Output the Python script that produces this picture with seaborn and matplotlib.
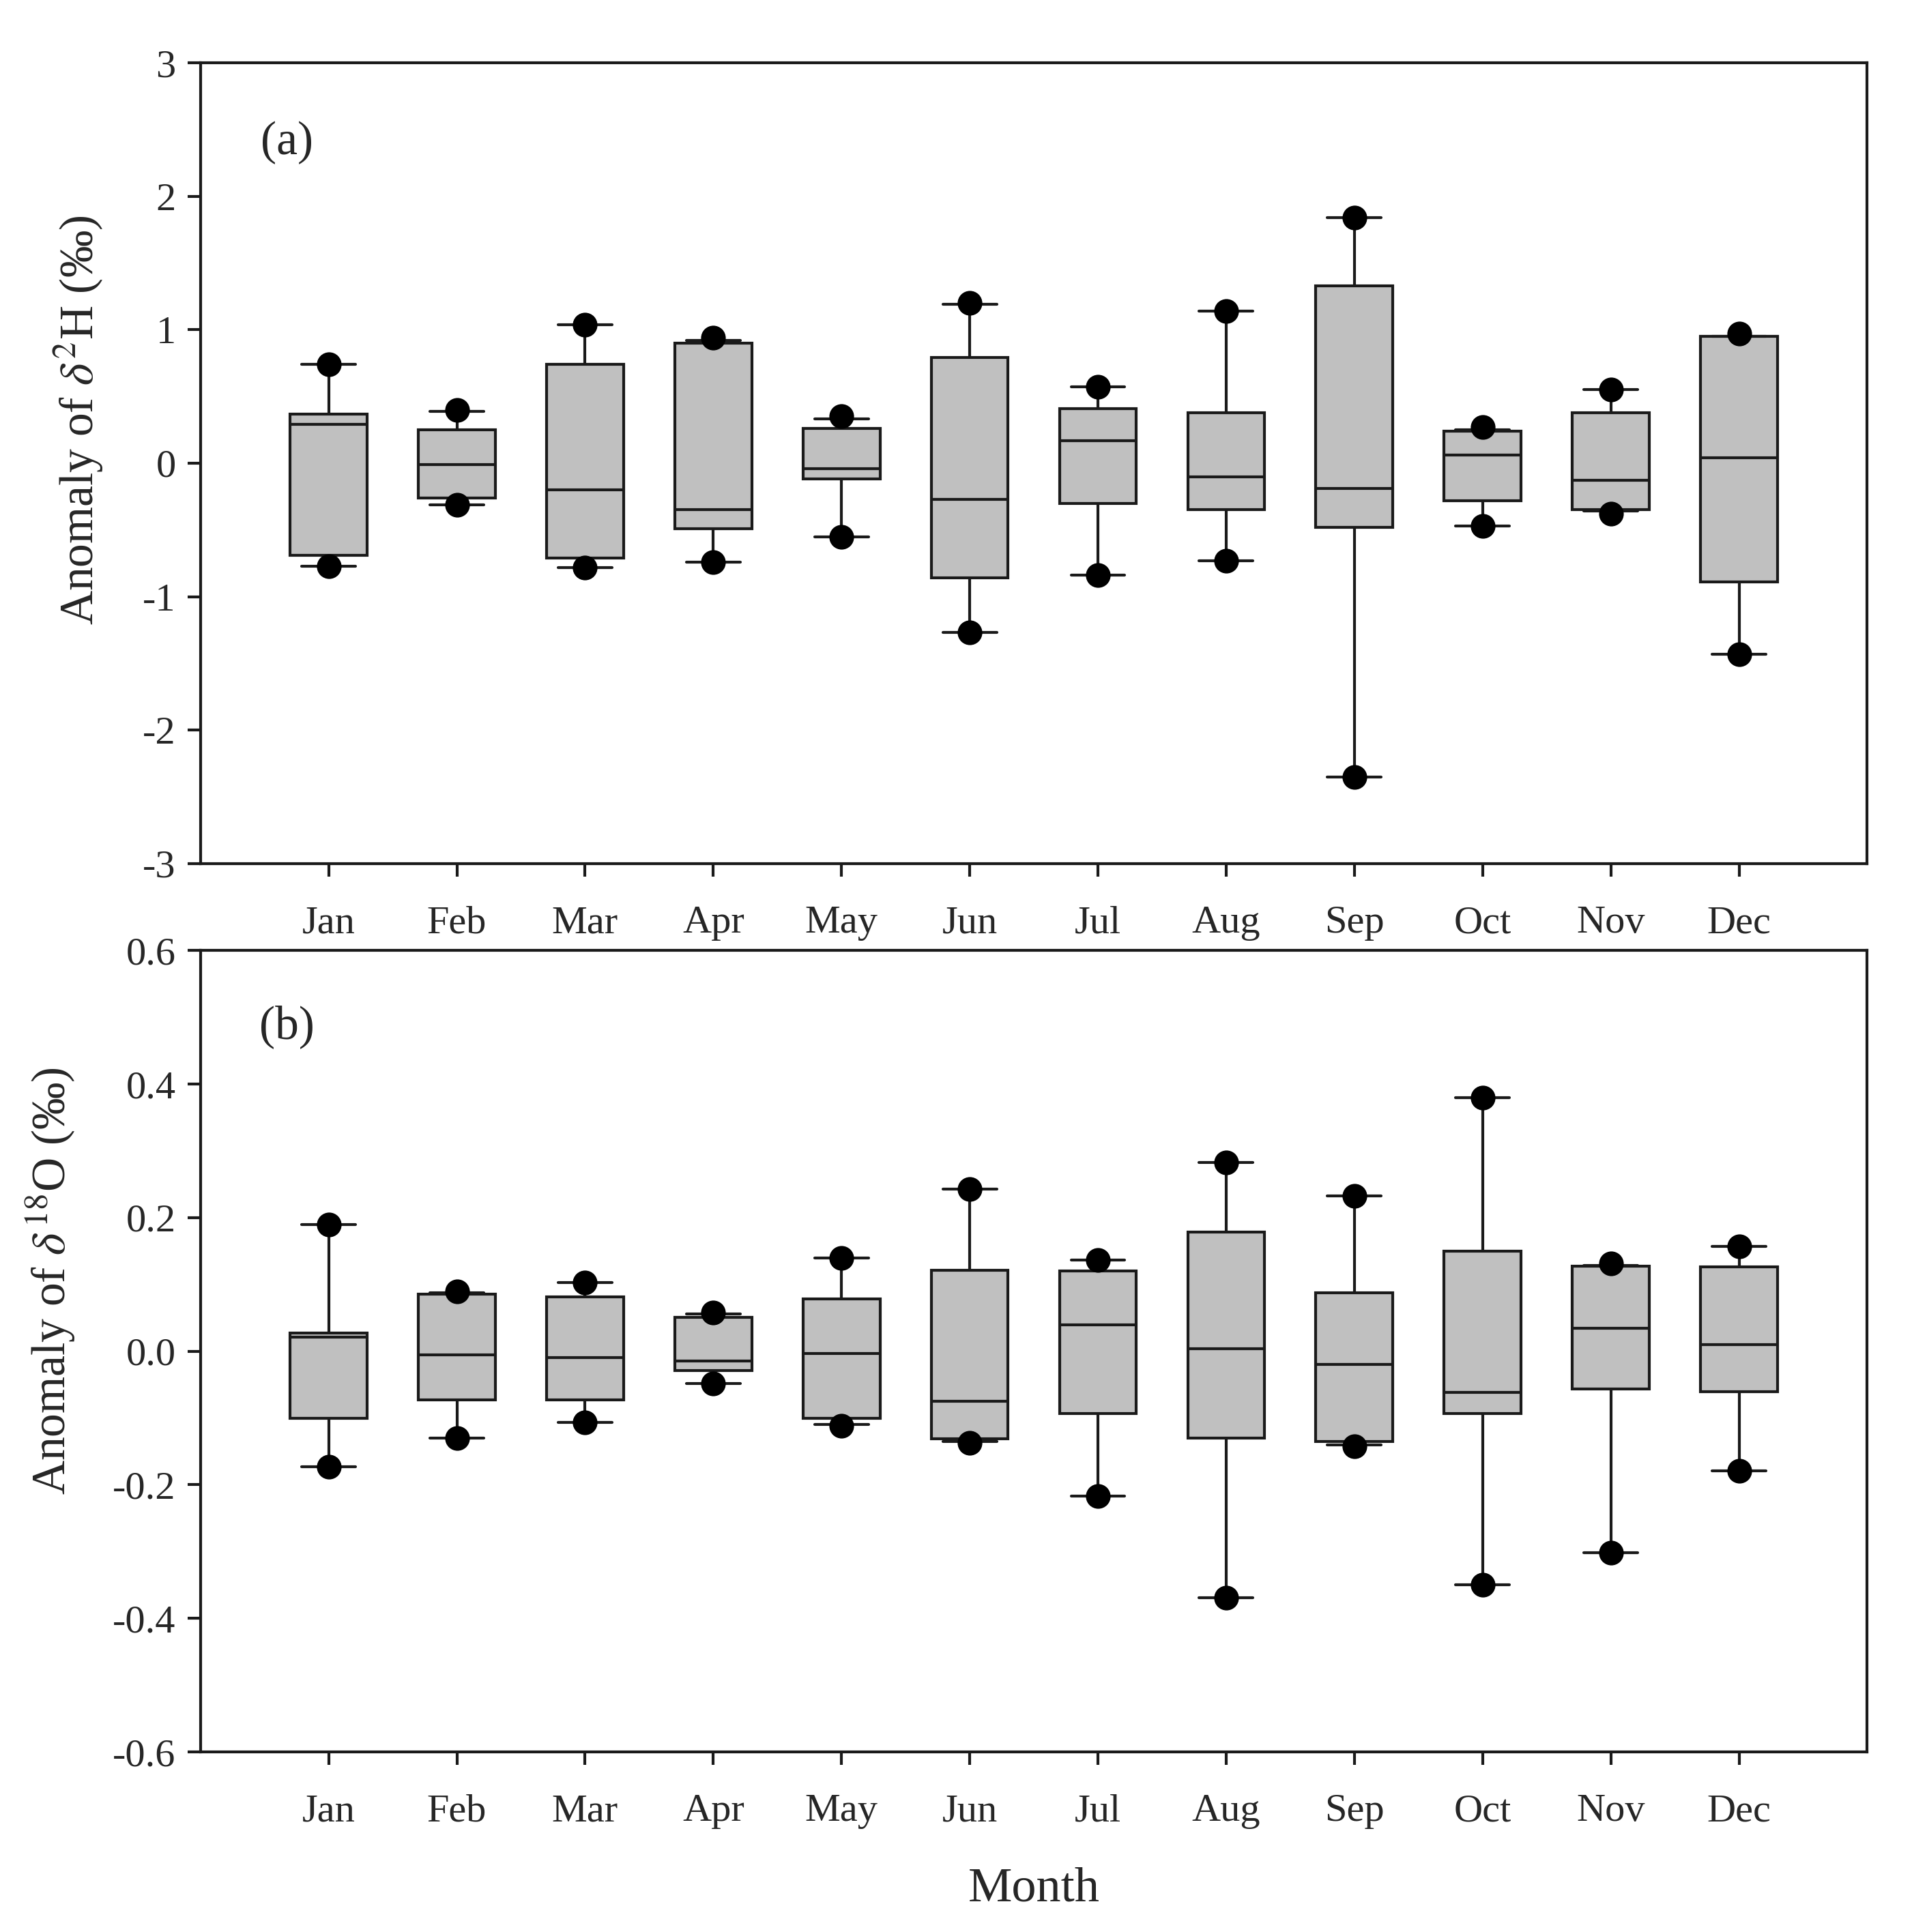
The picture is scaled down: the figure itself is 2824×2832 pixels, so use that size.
import numpy as np
import pandas as pd
import matplotlib
matplotlib.use("Agg")
import matplotlib.pyplot as plt
import seaborn as sns

# DATA
months = ["Jan", "Feb", "Mar", "Apr", "May", "Jun",
          "Jul", "Aug", "Sep", "Oct", "Nov", "Dec"]

# (a) delta 2H anomaly
h_q1 = [-0.69, -0.26, -0.71, -0.49, -0.12, -0.86, -0.30, -0.35, -0.48, -0.28, -0.35, -0.89]
h_med = [0.29, -0.01, -0.20, -0.35, -0.04, -0.27, 0.17, -0.10, -0.19, 0.06, -0.13, 0.04]
h_q3 = [0.37, 0.25, 0.74, 0.90, 0.26, 0.79, 0.41, 0.38, 1.33, 0.24, 0.38, 0.95]
h_wlo = [-0.77, -0.31, -0.78, -0.74, -0.55, -1.27, -0.84, -0.73, -2.35, -0.47, -0.36, -1.43]
h_whi = [0.74, 0.39, 1.04, 0.92, 0.33, 1.19, 0.57, 1.14, 1.84, 0.25, 0.55, 0.95]
h_lo = [-0.77, -0.31, -0.78, -0.74, -0.55, -1.27, -0.84, -0.73, -2.35, -0.47, -0.38, -1.43]
h_hi = [0.74, 0.40, 1.04, 0.94, 0.35, 1.20, 0.57, 1.14, 1.84, 0.27, 0.55, 0.97]

# (b) delta 18O anomaly
o_q1 = [-0.100, -0.073, -0.073, -0.029, -0.100, -0.131, -0.093, -0.130, -0.135, -0.093, -0.057, -0.061]
o_med = [0.021, -0.005, -0.010, -0.015, -0.003, -0.075, 0.040, 0.004, -0.020, -0.062, 0.034, 0.010]
o_q3 = [0.027, 0.086, 0.081, 0.051, 0.078, 0.121, 0.120, 0.178, 0.088, 0.150, 0.127, 0.126]
o_wlo = [-0.173, -0.130, -0.107, -0.048, -0.110, -0.135, -0.217, -0.369, -0.140, -0.350, -0.302, -0.179]
o_whi = [0.190, 0.088, 0.103, 0.056, 0.140, 0.243, 0.137, 0.283, 0.233, 0.380, 0.128, 0.157]
o_lo = [-0.173, -0.130, -0.107, -0.048, -0.112, -0.137, -0.217, -0.369, -0.142, -0.350, -0.302, -0.179]
o_hi = [0.190, 0.090, 0.103, 0.058, 0.140, 0.243, 0.137, 0.283, 0.233, 0.380, 0.131, 0.157]

sns.set_style("ticks")
plt.rcParams["font.family"] = ["Liberation Serif", "DejaVu Serif"]
plt.rcParams["mathtext.fontset"] = "stix"
plt.rcParams["axes.unicode_minus"] = False

LINE = "#1a1a1a"


def draw_panel(ax, q1, med, q3, wlo, whi, lo, hi):
    stats = []
    for i in range(len(months)):
        stats.append(dict(q1=q1[i], med=med[i], q3=q3[i],
                          whislo=wlo[i], whishi=whi[i], fliers=[]))
    ax.bxp(stats, positions=np.arange(len(months)), widths=0.6,
           patch_artist=True, showfliers=False, capwidths=0.42,
           boxprops=dict(facecolor="#c0c0c0", edgecolor=LINE, linewidth=1.5),
           medianprops=dict(color=LINE, linewidth=1.5),
           whiskerprops=dict(color=LINE, linewidth=1.5),
           capprops=dict(color=LINE, linewidth=1.5))
    pts = pd.DataFrame({"x": list(range(len(months))) * 2, "y": list(lo) + list(hi)})
    sns.scatterplot(data=pts, x="x", y="y", ax=ax, color="black", s=170,
                    edgecolor="black", linewidth=0, zorder=5, legend=False)
    ax.set_xlim(-1, 12)
    ax.set_xticks(np.arange(len(months)))
    ax.set_xticklabels(months)
    ax.tick_params(axis="x", length=7, width=1.5, pad=15, labelsize=21, color=LINE)
    ax.tick_params(axis="y", length=7, width=1.5, pad=6, labelsize=21, color=LINE)
    for sp in ax.spines.values():
        sp.set_linewidth(1.5)
        sp.set_color(LINE)
    ax.set_xlabel("")


fig = plt.figure(figsize=(14.12, 14.16), dpi=200)
ax1 = fig.add_axes([0.104, 0.553, 0.865, 0.4145])
ax2 = fig.add_axes([0.104, 0.0932, 0.865, 0.4148])

draw_panel(ax1, h_q1, h_med, h_q3, h_wlo, h_whi, h_lo, h_hi)
ax1.set_ylim(-3, 3)
ax1.set_yticks(np.arange(-3, 4, 1))
ax1.set_yticklabels([str(v) for v in range(-3, 4)])
ax1.set_ylabel(r"Anomaly of $\delta^2$H (‰)", fontsize=25)
ax1.yaxis.set_label_coords(-0.057, 0.554)
ax1.text(0.052, 0.90, "(a)", transform=ax1.transAxes, fontsize=25,
         ha="center", va="center")

draw_panel(ax2, o_q1, o_med, o_q3, o_wlo, o_whi, o_lo, o_hi)
ax2.set_ylim(-0.6, 0.6)
ticks = np.round(np.arange(-0.6, 0.61, 0.2), 1)
ax2.set_yticks(ticks)
ax2.set_yticklabels([f"{v:.1f}" if abs(v) > 1e-9 else "0.0" for v in ticks])
ax2.set_ylabel(r"Anomaly of $\delta\,^{18}$O (‰)", fontsize=25)
ax2.yaxis.set_label_coords(-0.074, 0.588)
ax2.text(0.052, 0.905, "(b)", transform=ax2.transAxes, fontsize=25,
         ha="center", va="center")
ax2.set_xlabel("Month", fontsize=26, labelpad=20)

fig.savefig("out.png", dpi=200, facecolor="white")
